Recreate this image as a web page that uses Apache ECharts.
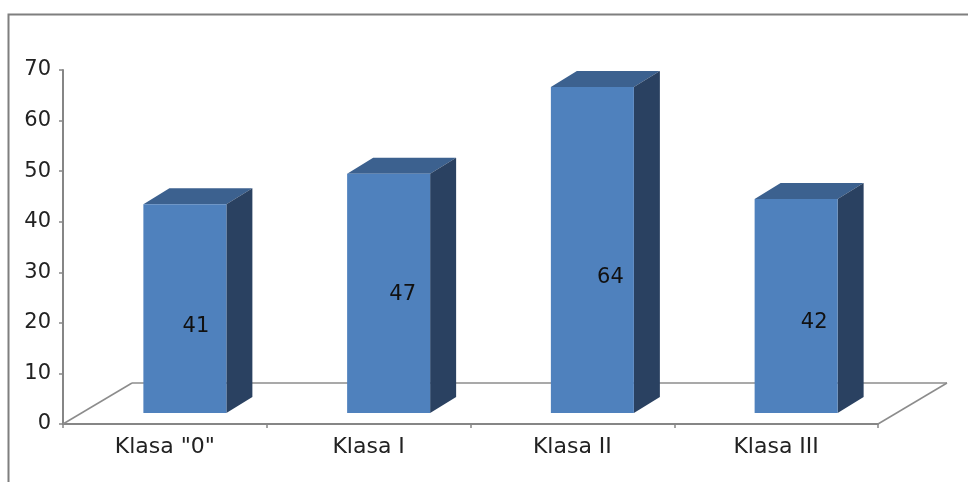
<!DOCTYPE html>
<html><head><meta charset="utf-8">
<style>html,body{margin:0;padding:0;background:#fff}#c{width:968px;height:482px}</style>
<script src="https://cdn.jsdelivr.net/npm/echarts@6/dist/echarts.min.js"></script></head>
<body><div id="c"></div>
<script>
const categories = ['Klasa "0"', 'Klasa I', 'Klasa II', 'Klasa III'];
const values = [41, 47, 64, 42];
const yMin = 0, yMax = 70, yStep = 10;

// Style: pseudo-3D projection and per-bar label nudges, in pixels
const depthX = 26, depthY = 16, floorDX = 69, floorDY = 41;
const barW = 83, barShiftX = 20, barLift = 11, heightScale = 1.007;
const labelNudgeX = [11, 14, 18, 18];
const labelNudgeY = [18, 1, 28, 16];
const FONT = '"DejaVu Sans"';

const chart = echarts.init(document.getElementById('c'), null, {renderer: 'canvas'});
chart.setOption({
  animation: false,
  backgroundColor: '#fff',
  graphic: [{type: 'rect', left: 6, top: 12, shape: {width: 1000, height: 520},
    style: {fill: 'none', stroke: '#7f7f7f', lineWidth: 2}, z: -1}],
  grid: {left: 63, right: 90, top: 70, bottom: 58},
  xAxis: {type: 'category', data: categories,
    axisLine: {lineStyle: {color: '#868686', width: 2}},
    axisTick: {show: true, length: 4, lineStyle: {color: '#868686', width: 1.5}},
    axisLabel: {color: '#222', fontFamily: FONT, fontSize: 22, margin: 12}},
  yAxis: {type: 'value', min: yMin, max: yMax, interval: yStep, splitLine: {show: false},
    axisLine: {show: true, lineStyle: {color: '#868686', width: 2}},
    axisTick: {show: true, length: 4, lineStyle: {color: '#868686', width: 1.5}},
    axisLabel: {color: '#222', fontFamily: FONT, fontSize: 21, margin: 12}},
  series: [
    {type: 'custom', coordinateSystem: 'cartesian2d', z: 1, silent: true, data: [[0, 0]],
     renderItem(params, api) {
       const a = api.coord([0, yMin]);
       const size = api.size([1, 0]);
       const x0 = a[0] - size[0] / 2, y0 = a[1];
       const x1 = x0 + size[0] * categories.length;
       const line = (p, q) => ({type: 'line', shape: {x1: p[0], y1: p[1], x2: q[0], y2: q[1]},
         style: {stroke: '#8c8c8c', lineWidth: 1.5}});
       return {type: 'group', children: [
         line([x0, y0], [x0 + floorDX, y0 - floorDY]),
         line([x0 + floorDX, y0 - floorDY], [x1 + floorDX, y0 - floorDY]),
         line([x1 + floorDX, y0 - floorDY], [x1, y0])
       ]};
     }},
    {type: 'custom', coordinateSystem: 'cartesian2d', z: 2, silent: true,
     data: values.map((v, i) => [i, v]),
     encode: {x: 0, y: 1},
     renderItem(params, api) {
       const i = api.value(0), v = api.value(1);
       const base = api.coord([i, yMin]);
       const top = api.coord([i, v]);
       const h = (base[1] - top[1]) * heightScale;
       const l = base[0] + barShiftX - barW / 2, r = l + barW;
       const b = base[1] - barLift, t = b - h;
       const poly = (points, fill) => ({type: 'polygon', shape: {points}, style: {fill}});
       return {type: 'group', children: [
         poly([[l, t], [r, t], [r + depthX, t - depthY], [l + depthX, t - depthY]], '#3C618F'),
         poly([[r, t], [r + depthX, t - depthY], [r + depthX, b - depthY], [r, b]], '#2A4161'),
         {type: 'rect', shape: {x: l, y: t, width: barW, height: h}, style: {fill: '#4F81BD'}},
         {type: 'text', x: (l + r) / 2 + labelNudgeX[i], y: (t + b) / 2 + labelNudgeY[i],
          style: {text: String(v), fill: '#111', font: '21px ' + FONT, align: 'center', verticalAlign: 'middle'}}
       ]};
     }}
  ]
});
</script></body></html>
